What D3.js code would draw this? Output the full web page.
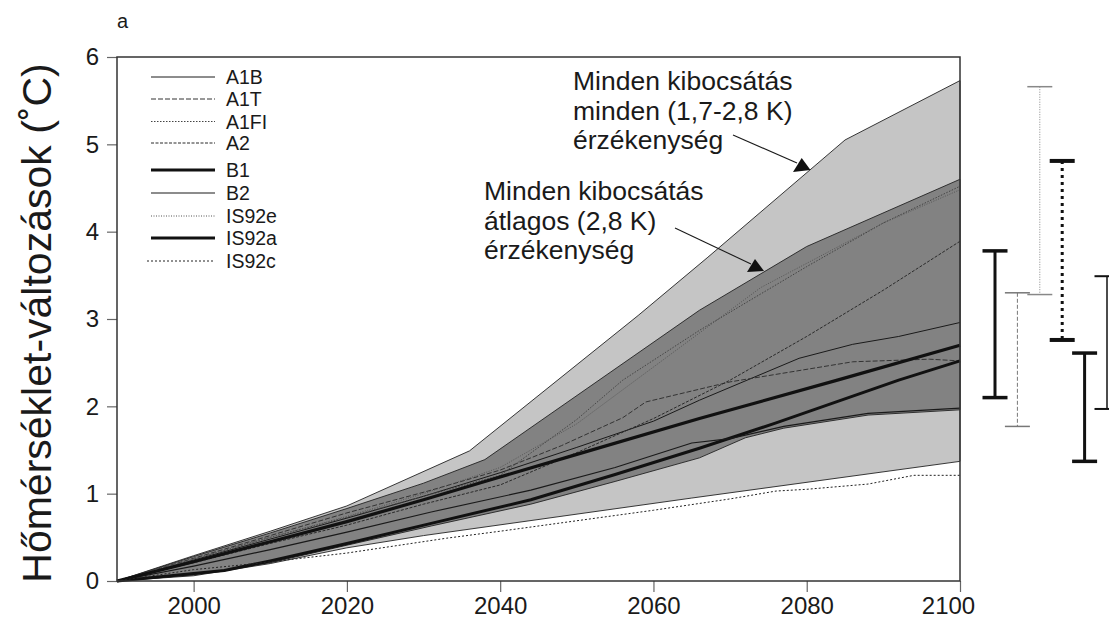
<!DOCTYPE html>
<html>
<head>
<meta charset="utf-8">
<script src="https://cdn.jsdelivr.net/npm/d3@7"></script>
<style>
    body { margin: 0; background: #fff; }
    svg { display: block; font-family: "Liberation Sans", Arial, Helvetica, sans-serif; }
</style>
</head>
<body>
<div class="wrapper"></div>
<script>
// envelopes: [year, temperature change]
const allSensHigh = [[1990, 0], [2000, 0.29], [2010, 0.57], [2020, 0.86], [2036, 1.49], [2058, 3.04], [2067, 3.70], [2085, 5.05], [2100, 5.73]];
const allSensLow = [[1990, 0], [2000, 0.06], [2010, 0.20], [2020, 0.38], [2030, 0.52], [2065, 0.95], [2100, 1.37]];
const avgSensHigh = [[1990, 0], [2000, 0.28], [2010, 0.55], [2020, 0.83], [2030, 1.12], [2038, 1.39], [2066, 3.10], [2080, 3.83], [2100, 4.60]];
const avgSensLow = [[1990, 0], [2000, 0.07], [2010, 0.21], [2020, 0.41], [2031, 0.63], [2044, 0.88], [2055, 1.14], [2066, 1.41], [2072, 1.64], [2077, 1.75], [2088, 1.90], [2100, 1.96]];

// scenarios
const a1b = [[1990, 0], [2000, 0.24], [2010, 0.48], [2020, 0.72], [2030, 0.97], [2040, 1.24], [2050, 1.53], [2060, 1.83], [2066, 2.07], [2079, 2.55], [2086, 2.71], [2092, 2.80], [2100, 2.96]];
const a1t = [[1990, 0], [2000, 0.26], [2010, 0.52], [2020, 0.78], [2031, 1.04], [2040, 1.27], [2048, 1.55], [2056, 1.87], [2059, 2.05], [2070, 2.28], [2086, 2.51], [2096, 2.54], [2100, 2.52]];
const a1fi = [[1990, 0], [2000, 0.25], [2010, 0.50], [2020, 0.73], [2030, 0.97], [2040, 1.21], [2050, 1.85], [2056, 2.30], [2066, 2.87], [2080, 3.60], [2090, 4.10], [2100, 4.52]];
const a2 = [[1990, 0], [2000, 0.21], [2010, 0.43], [2020, 0.64], [2030, 0.88], [2040, 1.10], [2050, 1.47], [2060, 1.86], [2070, 2.30], [2080, 2.80], [2090, 3.33], [2100, 3.89]];
const b1 = [[1990, 0], [2004, 0.12], [2010, 0.23], [2020, 0.43], [2031, 0.66], [2044, 0.93], [2055, 1.22], [2066, 1.52], [2076, 1.81], [2092, 2.30], [2100, 2.52]];
const b2 = [[1990, 0], [2000, 0.17], [2010, 0.36], [2020, 0.56], [2031, 0.79], [2044, 1.04], [2055, 1.30], [2065, 1.58], [2070, 1.63], [2077, 1.77], [2088, 1.92], [2100, 1.98]];
const is92e = [[1990, 0], [2000, 0.25], [2010, 0.50], [2020, 0.74], [2030, 1.00], [2040, 1.30], [2050, 1.80], [2060, 2.45], [2074, 3.36], [2090, 4.10], [2100, 4.48]];
const is92a = [[1990, 0], [2000, 0.22], [2010, 0.45], [2020, 0.68], [2030, 0.93], [2038, 1.14], [2050, 1.45], [2066, 1.86], [2084, 2.30], [2100, 2.70]];
const is92c = [[1990, 0], [2000, 0.13], [2007, 0.19], [2014, 0.26], [2020, 0.32], [2033, 0.49], [2040, 0.57], [2050, 0.69], [2060, 0.81], [2070, 0.94], [2076, 1.03], [2080, 1.05], [2088, 1.11], [2094, 1.21], [2100, 1.21]];

const seriesNames = ["A1B", "A1T", "A1FI", "A2", "B1", "B2", "IS92e", "IS92a", "IS92c"];
const seriesData = [a1b, a1t, a1fi, a2, b1, b2, is92e, is92a, is92c];

// ranges at 2100 (bars right of the plot)
const barNames = ["A1B", "A1T", "A1FI", "A2", "B1", "B2"];
const barLow = [2.10, 1.77, 3.28, 2.76, 1.37, 1.97];
const barHigh = [3.78, 3.30, 5.66, 4.81, 2.61, 3.49];

const xTicks = [2000, 2020, 2040, 2060, 2080, 2100];
const yTicks = [0, 1, 2, 3, 4, 5, 6];

// line styles per scenario
const styles = {
    "A1B": {w: 1, dash: null, c: "#1a1a1a"},
    "A1T": {w: 1, dash: "5,2", c: "#333"},
    "A1FI": {w: 1, dash: "1.5,1.5", c: "#444"},
    "A2": {w: 1, dash: "3,1.5", c: "#2a2a2a"},
    "B1": {w: 3, dash: null, c: "#111"},
    "B2": {w: 1.2, dash: null, c: "#1a1a1a"},
    "IS92e": {w: 1, dash: "1,1.5", c: "#555"},
    "IS92a": {w: 3.2, dash: null, c: "#111"},
    "IS92c": {w: 1, dash: "2,2", c: "#222"}
};

const width = 1109, height = 618;

const x = d3.scaleLinear().domain([1990, 2100]).range([117, 960]);
const y = d3.scaleLinear().domain([0, 6]).range([581, 57]);

const svg = d3.select(".wrapper").append("svg")
    .attr("width", width)
    .attr("height", height);

const line = d3.line()
    .x(d => x(d[0]))
    .y(d => y(d[1]));

function band(high, low) {
    return line(high.concat(low.slice().reverse())) + "Z";
}

// ### BANDS
svg.append("path")
    .attr("d", band(allSensHigh, allSensLow))
    .attr("fill", "#c5c5c5")
    .attr("stroke", "#222")
    .attr("stroke-width", 0.9);

svg.append("path")
    .attr("d", band(avgSensHigh, avgSensLow))
    .attr("fill", "#828282")
    .attr("stroke", "#222")
    .attr("stroke-width", 0.9);

// ### LINES
svg.selectAll("path.scenario")
    .data(seriesNames)
    .enter()
    .append("path")
    .attr("class", "scenario")
    .attr("d", (d, i) => line(seriesData[i]))
    .attr("fill", "none")
    .attr("stroke", d => styles[d].c)
    .attr("stroke-width", d => styles[d].w)
    .attr("stroke-dasharray", d => styles[d].dash)
    .attr("stroke-linejoin", "round");

// ### AXES
const xAxis = svg.append("g")
    .attr("transform", "translate(0," + y(0) + ")")
    .call(d3.axisBottom(x).tickValues(xTicks).tickFormat(d3.format("d")).tickSize(11).tickPadding(5));

const yAxis = svg.append("g")
    .attr("transform", "translate(" + x(1990) + ",0)")
    .call(d3.axisLeft(y).tickValues(yTicks).tickFormat(d3.format("d")).tickSize(10).tickPadding(8));

[xAxis, yAxis].forEach(g => {
    g.select(".domain").remove();
    g.selectAll(".tick line").attr("stroke", "#666").attr("stroke-width", 1.2);
    g.selectAll(".tick text")
        .attr("fill", "#1a1a1a")
        .style("font-size", "24px")
        .style("font-family", "\"Liberation Sans\", Arial, sans-serif");
});
xAxis.selectAll(".tick text").filter(d => d === 2100).attr("dx", -12);

// frame
svg.append("rect")
    .attr("x", x(1990))
    .attr("y", y(6))
    .attr("width", x(2100) - x(1990))
    .attr("height", y(0) - y(6))
    .attr("fill", "none")
    .attr("stroke", "#333")
    .attr("stroke-width", 1.5);

svg.append("text")
    .attr("transform", "translate(51," + ((y(0) + y(6)) / 2 + 4) + ") rotate(-90)")
    .attr("text-anchor", "middle")
    .style("font-size", "41px")
    .attr("fill", "#1a1a1a")
    .text("Hőmérséklet-változások (˚C)");

svg.append("text")
    .attr("x", 117)
    .attr("y", 28)
    .style("font-size", "20px")
    .attr("fill", "#1a1a1a")
    .text("a");

// ### LEGEND
const legendY = [77, 99, 121.5, 143, 170, 193, 216, 238, 261];

const legend = svg.selectAll("g.legend")
    .data(seriesNames)
    .enter()
    .append("g")
    .attr("class", "legend")
    .attr("transform", (d, i) => "translate(0," + legendY[i] + ")");

legend.append("line")
    .attr("x1", d => d === "IS92c" ? 147 : 151)
    .attr("x2", 215)
    .attr("stroke", d => styles[d].c)
    .attr("stroke-width", d => styles[d].w)
    .attr("stroke-dasharray", d => styles[d].dash);

legend.append("text")
    .attr("x", 226)
    .attr("y", 7)
    .style("font-size", "19.5px")
    .attr("fill", "#1a1a1a")
    .text(d => d);

// ### ANNOTATIONS
const notes = [
    {x: 573, y: 90, lines: ["Minden kibocsátás", "minden (1,7-2,8 K)", "érzékenység"]},
    {x: 484, y: 200, lines: ["Minden kibocsátás", "átlagos (2,8 K)", "érzékenység"]}
];

notes.forEach(n => {
    const t = svg.append("text")
        .attr("x", n.x)
        .attr("y", n.y)
        .style("font-size", "26.5px")
        .attr("fill", "#1a1a1a");
    n.lines.forEach((s, k) => {
        t.append("tspan").attr("x", n.x).attr("dy", k === 0 ? 0 : 29.5).text(s);
    });
});

const arrows = [
    {from: [733, 135], to: [797, 163], head: [[801.7, 158], [793, 172], [810.5, 170]]},
    {from: [675, 228], to: [751, 264], head: [[755, 259], [747, 272], [764, 271]]}
];

arrows.forEach(a => {
    svg.append("line")
        .attr("x1", a.from[0]).attr("y1", a.from[1])
        .attr("x2", a.to[0]).attr("y2", a.to[1])
        .attr("stroke", "#1a1a1a")
        .attr("stroke-width", 1.1);
    svg.append("path")
        .attr("d", "M" + a.head.join("L") + "Z")
        .attr("fill", "#111");
});

// ### RANGE BARS
const bx = d3.scalePoint().domain(barNames).range([995, 1107]);
const barStyle = {
    "A1B": {w: 3, cap: 3.5, dash: null, c: "#111"},
    "A1T": {w: 1, cap: 1.5, dash: "4,2", c: "#777"},
    "A1FI": {w: 1, cap: 1.5, dash: "1,1.5", c: "#888"},
    "A2": {w: 3, cap: 4, dash: "3,4", c: "#111"},
    "B1": {w: 3, cap: 3.5, dash: null, c: "#111"},
    "B2": {w: 1.5, cap: 2, dash: null, c: "#111"}
};

const bars = svg.selectAll("g.range")
    .data(barNames)
    .enter()
    .append("g")
    .attr("class", "range");

bars.append("line")
    .attr("x1", d => bx(d)).attr("x2", d => bx(d))
    .attr("y1", (d, i) => y(barHigh[i]))
    .attr("y2", (d, i) => y(barLow[i]))
    .attr("stroke", d => barStyle[d].c)
    .attr("stroke-width", d => barStyle[d].w)
    .attr("stroke-dasharray", d => barStyle[d].dash);

[barHigh, barLow].forEach(vals => {
    bars.append("line")
        .attr("x1", d => bx(d) - 12.5).attr("x2", d => bx(d) + 12.5)
        .attr("y1", (d, i) => y(vals[i]))
        .attr("y2", (d, i) => y(vals[i]))
        .attr("stroke", d => barStyle[d].c)
        .attr("stroke-width", d => barStyle[d].cap);
});
</script>
</body>
</html>
